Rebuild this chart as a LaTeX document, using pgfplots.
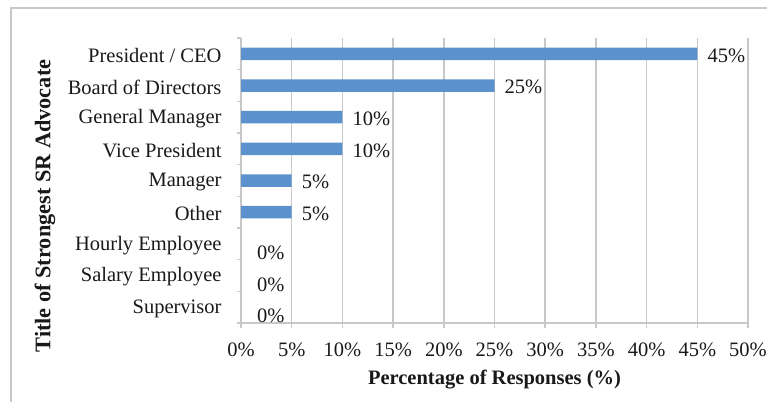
\documentclass[border=0pt]{standalone}
\usepackage{pgfplots}
\pgfplotsset{compat=1.18}
\usepackage{fontspec}
\setmainfont{Liberation Serif}
\definecolor{barblue}{RGB}{91,146,205}
\definecolor{gridgray}{RGB}{200,200,200}
\definecolor{txt}{RGB}{25,25,25}
\newcommand{\chartfont}{\fontsize{20.5bp}{24bp}\selectfont}
\begin{document}
\begin{tikzpicture}
\useasboundingbox (0,0) rectangle (767bp,402bp);
\draw[color=gridgray, line width=1.5bp] (11bp,0) -- (11bp,394bp) -- (768bp,394bp);
\begin{axis}[
  at={(241bp,79bp)}, anchor=south west,
  scale only axis, width=507bp, height=285bp,
  xmin=0, xmax=50, ymin=-0.5, ymax=8.5,
  axis x line*=bottom, axis y line*=left,
  axis line style={gridgray, line width=1.5bp},
  xtick={0,5,...,50},
  xticklabel={\pgfmathprintnumber{\tick}\%},
  ytick={0,...,8},
  yticklabels={Supervisor,Salary Employee,Hourly Employee,Other,Manager,Vice President,General Manager,Board of Directors,President / CEO},
  minor ytick={-0.5,0.5,...,8.5},
  tick align=outside,
  major tick length=5bp, minor tick length=4bp,
  major x tick style={gridgray, line width=1.5bp},
  major y tick style={draw=none},
  minor y tick style={gridgray, line width=1.5bp},
  xmajorgrids, major grid style={gridgray, line width=1.5bp},
  /pgf/number format/assume math mode=true,
  tick label style={font=\chartfont, text=txt},
  xticklabel style={yshift=-11bp},
  yticklabel style={xshift=-11bp, yshift=-1.5bp},
  every axis x label/.style={at={(rel axis cs:0.5,0)}, yshift=-57bp, anchor=center, font=\chartfont\bfseries, text=txt},
  every axis y label/.style={at={(axis description cs:-0.3866,0.4105)}, rotate=90, anchor=center, font=\fontsize{22.3bp}{26bp}\selectfont\bfseries, text=txt},
  xlabel={Percentage of Responses (\%)},
  ylabel={Title of Strongest SR Advocate},
  clip=false,
]
\addplot[xbar, bar shift=0pt, bar width=12.5bp, fill=barblue, draw=none,
  point meta=x,
  nodes near coords={\pgfmathprintnumber{\pgfplotspointmeta}\%},
  every node near coord/.append style={anchor=west, inner sep=0pt, xshift=10bp, yshift=-1.5bp, font=\chartfont, text=txt}]
  coordinates {(45,8) (25,7) (10,6) (10,5) (5,4) (5,3)};
\addplot[draw=none, mark=none,
  point meta=x,
  nodes near coords={\pgfmathprintnumber{\pgfplotspointmeta}\%},
  every node near coord/.append style={anchor=west, inner sep=0pt, xshift=16bp, yshift=-9bp, font=\chartfont, text=txt}]
  coordinates {(0,2) (0,1) (0,0)};
\end{axis}
\end{tikzpicture}
\end{document}
